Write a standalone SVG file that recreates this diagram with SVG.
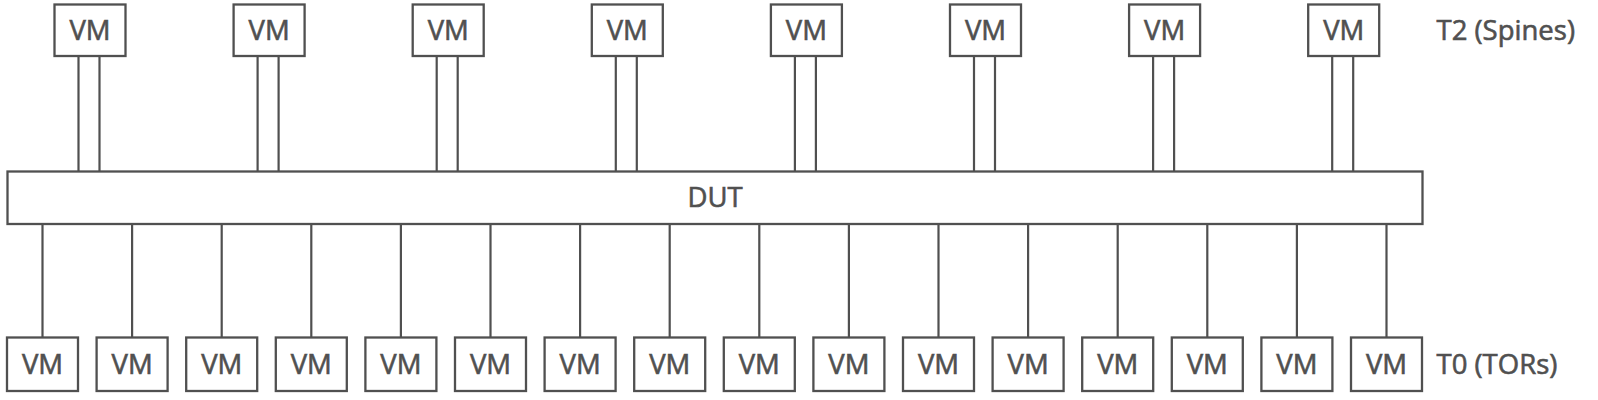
<svg xmlns="http://www.w3.org/2000/svg" width="1598" height="400" viewBox="0 0 1598 400">
<style>
.box{fill:#fff;stroke:#505050;stroke-width:2.3}
.ln{stroke:#505050;stroke-width:2.2;fill:none}
.t{font-family:"Open Sans","Noto Sans",sans-serif;font-size:27.5px;fill:#505050;stroke:#505050;stroke-width:0.6}
.c{text-anchor:middle}
</style>
<rect width="1598" height="400" fill="#fff"/>
<g id="connectors">
<path class="ln" d="M78.5 56V172M99.5 56V172M257.6 56V172M278.6 56V172M436.7 56V172M457.7 56V172M615.8 56V172M636.8 56V172M794.9 56V172M815.9 56V172M974 56V172M995 56V172M1153.1 56V172M1174.1 56V172M1332.2 56V172M1353.2 56V172"/>
<path class="ln" d="M42.5 224V337M132.1 224V337M221.7 224V337M311.3 224V337M400.9 224V337M490.5 224V337M580.1 224V337M669.7 224V337M759.3 224V337M848.9 224V337M938.5 224V337M1028.1 224V337M1117.7 224V337M1207.3 224V337M1296.9 224V337M1386.5 224V337"/>
</g>
<g id="dut"><rect class="box" x="7.5" y="171.5" width="1415" height="52.5"/><text class="t c" x="715" y="206.5">DUT</text></g>
<g id="spine1"><rect class="box" x="54.5" y="4.5" width="71" height="51.5"/><text class="t c" x="90" y="39.5">VM</text></g>
<g id="spine2"><rect class="box" x="233.6" y="4.5" width="71" height="51.5"/><text class="t c" x="269.1" y="39.5">VM</text></g>
<g id="spine3"><rect class="box" x="412.7" y="4.5" width="71" height="51.5"/><text class="t c" x="448.2" y="39.5">VM</text></g>
<g id="spine4"><rect class="box" x="591.8" y="4.5" width="71" height="51.5"/><text class="t c" x="627.3" y="39.5">VM</text></g>
<g id="spine5"><rect class="box" x="770.9" y="4.5" width="71" height="51.5"/><text class="t c" x="806.4" y="39.5">VM</text></g>
<g id="spine6"><rect class="box" x="950" y="4.5" width="71" height="51.5"/><text class="t c" x="985.5" y="39.5">VM</text></g>
<g id="spine7"><rect class="box" x="1129.1" y="4.5" width="71" height="51.5"/><text class="t c" x="1164.6" y="39.5">VM</text></g>
<g id="spine8"><rect class="box" x="1308.2" y="4.5" width="71" height="51.5"/><text class="t c" x="1343.7" y="39.5">VM</text></g>
<g id="tor1"><rect class="box" x="7" y="337.5" width="71" height="53.5"/><text class="t c" x="42.5" y="374">VM</text></g>
<g id="tor2"><rect class="box" x="96.6" y="337.5" width="71" height="53.5"/><text class="t c" x="132.1" y="374">VM</text></g>
<g id="tor3"><rect class="box" x="186.2" y="337.5" width="71" height="53.5"/><text class="t c" x="221.7" y="374">VM</text></g>
<g id="tor4"><rect class="box" x="275.8" y="337.5" width="71" height="53.5"/><text class="t c" x="311.3" y="374">VM</text></g>
<g id="tor5"><rect class="box" x="365.4" y="337.5" width="71" height="53.5"/><text class="t c" x="400.9" y="374">VM</text></g>
<g id="tor6"><rect class="box" x="455" y="337.5" width="71" height="53.5"/><text class="t c" x="490.5" y="374">VM</text></g>
<g id="tor7"><rect class="box" x="544.6" y="337.5" width="71" height="53.5"/><text class="t c" x="580.1" y="374">VM</text></g>
<g id="tor8"><rect class="box" x="634.2" y="337.5" width="71" height="53.5"/><text class="t c" x="669.7" y="374">VM</text></g>
<g id="tor9"><rect class="box" x="723.8" y="337.5" width="71" height="53.5"/><text class="t c" x="759.3" y="374">VM</text></g>
<g id="tor10"><rect class="box" x="813.4" y="337.5" width="71" height="53.5"/><text class="t c" x="848.9" y="374">VM</text></g>
<g id="tor11"><rect class="box" x="903" y="337.5" width="71" height="53.5"/><text class="t c" x="938.5" y="374">VM</text></g>
<g id="tor12"><rect class="box" x="992.6" y="337.5" width="71" height="53.5"/><text class="t c" x="1028.1" y="374">VM</text></g>
<g id="tor13"><rect class="box" x="1082.2" y="337.5" width="71" height="53.5"/><text class="t c" x="1117.7" y="374">VM</text></g>
<g id="tor14"><rect class="box" x="1171.8" y="337.5" width="71" height="53.5"/><text class="t c" x="1207.3" y="374">VM</text></g>
<g id="tor15"><rect class="box" x="1261.4" y="337.5" width="71" height="53.5"/><text class="t c" x="1296.9" y="374">VM</text></g>
<g id="tor16"><rect class="box" x="1351" y="337.5" width="71" height="53.5"/><text class="t c" x="1386.5" y="374">VM</text></g>
<g id="labels">
<text class="t" x="1436.5" y="39.5">T2 (Spines)</text>
<text class="t" x="1436.5" y="374">T0 (TORs)</text>
</g>
</svg>
